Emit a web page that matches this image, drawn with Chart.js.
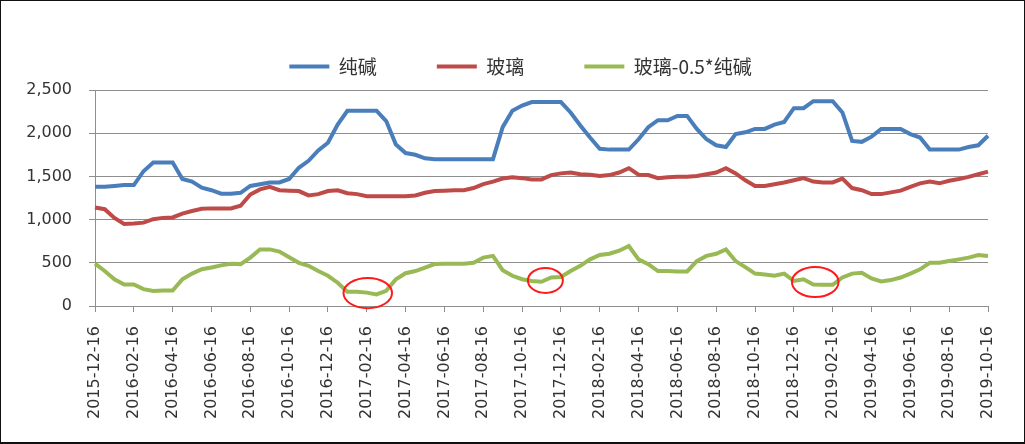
<!DOCTYPE html>
<html>
<head>
<meta charset="utf-8">
<script src="https://cdn.jsdelivr.net/npm/chart.js@4/dist/chart.umd.min.js"></script>
<style>
  body { margin: 0; background: #fff; }
  #wrap { width: 1025px; height: 444px; box-sizing: border-box; border: 1px solid #111; border-bottom-width: 2px; }
  canvas { display: block; }
</style>
</head>
<body>
<div id="wrap"><canvas id="spread" width="1023" height="441"></canvas></div>
<script>
// half-month sampling, 2015-12-16 .. 2019-10-16
const categories = [
  '2015-12-16',
  '2016-01-01','2016-01-16','2016-02-01','2016-02-16','2016-03-01','2016-03-16','2016-04-01','2016-04-16',
  '2016-05-01','2016-05-16','2016-06-01','2016-06-16','2016-07-01','2016-07-16','2016-08-01','2016-08-16',
  '2016-09-01','2016-09-16','2016-10-01','2016-10-16','2016-11-01','2016-11-16','2016-12-01','2016-12-16',
  '2017-01-01','2017-01-16','2017-02-01','2017-02-16','2017-03-01','2017-03-16','2017-04-01','2017-04-16',
  '2017-05-01','2017-05-16','2017-06-01','2017-06-16','2017-07-01','2017-07-16','2017-08-01','2017-08-16',
  '2017-09-01','2017-09-16','2017-10-01','2017-10-16','2017-11-01','2017-11-16','2017-12-01','2017-12-16',
  '2018-01-01','2018-01-16','2018-02-01','2018-02-16','2018-03-01','2018-03-16','2018-04-01','2018-04-16',
  '2018-05-01','2018-05-16','2018-06-01','2018-06-16','2018-07-01','2018-07-16','2018-08-01','2018-08-16',
  '2018-09-01','2018-09-16','2018-10-01','2018-10-16','2018-11-01','2018-11-16','2018-12-01','2018-12-16',
  '2019-01-01','2019-01-16','2019-02-01','2019-02-16','2019-03-01','2019-03-16','2019-04-01','2019-04-16',
  '2019-05-01','2019-05-16','2019-06-01','2019-06-16','2019-07-01','2019-07-16','2019-08-01','2019-08-16',
  '2019-09-01','2019-09-16','2019-10-01','2019-10-16'
]

const tickLabels = [
  '2015-12-16','2016-02-16','2016-04-16','2016-06-16','2016-08-16','2016-10-16','2016-12-16',
  '2017-02-16','2017-04-16','2017-06-16','2017-08-16','2017-10-16','2017-12-16',
  '2018-02-16','2018-04-16','2018-06-16','2018-08-16','2018-10-16','2018-12-16',
  '2019-02-16','2019-04-16','2019-06-16','2019-08-16','2019-10-16'
]

const sodaAsh = [
  1380, 1380, 1390, 1400, 1400, 1560, 1660, 1660, 1660, 1470, 1440, 1370, 1340, 1300, 1300, 1310,
  1390, 1410, 1430, 1430, 1470, 1600, 1680, 1800, 1890, 2100, 2260, 2260, 2260, 2260, 2140, 1870,
  1770, 1750, 1710, 1700, 1700, 1700, 1700, 1700, 1700, 1700, 2070, 2260, 2320, 2360, 2360, 2360,
  2360, 2240, 2090, 1950, 1820, 1810, 1810, 1810, 1930, 2070, 2150, 2150, 2200, 2200, 2050, 1930,
  1860, 1840, 1990, 2010, 2050, 2050, 2100, 2130, 2290, 2290, 2370, 2370, 2370, 2240, 1910, 1900,
  1960, 2050, 2050, 2050, 1990, 1950, 1810, 1810, 1810, 1810, 1840, 1860, 1970
]

const glass = [
  1140, 1120, 1020, 950, 955, 965, 1005, 1020, 1025, 1070, 1100, 1125, 1130, 1130, 1130, 1160,
  1290, 1350, 1380, 1340, 1335, 1330, 1280, 1295, 1330, 1340, 1305, 1295, 1270, 1270, 1270, 1270,
  1270, 1280, 1310, 1330, 1335, 1340, 1340, 1365, 1410, 1440, 1475, 1490, 1480, 1465, 1465, 1515,
  1535, 1545, 1525, 1520, 1505, 1515, 1545, 1595, 1520, 1515, 1480, 1490, 1495, 1495, 1505, 1525,
  1545, 1595, 1535, 1455, 1390, 1390, 1410, 1430, 1455, 1480, 1440, 1430, 1430, 1475, 1365, 1340,
  1295, 1295, 1315, 1335, 1380, 1420, 1440, 1420, 1450, 1470, 1495, 1525, 1555
]

const spread = [
  490, 405, 310, 250, 250, 195, 175, 180, 180, 310, 375, 425, 445, 470, 490, 485,
  560, 655, 655, 630, 565, 500, 465, 405, 350, 270, 165, 165, 155, 135, 175, 310,
  380, 405, 445, 485, 490, 490, 490, 500, 560, 580, 415, 350, 310, 290, 280, 330,
  335, 405, 465, 540, 590, 605, 640, 695, 540, 485, 405, 405, 400, 400, 520, 580,
  605, 655, 520, 450, 375, 365, 350, 375, 290, 310, 250, 245, 245, 330, 375, 385,
  320, 285, 300, 330, 375, 425, 500, 500, 520, 540, 560, 590, 580
]

// red rings drawn on the chart: centre (category index, value) and half sizes in the same units
const rings = [
  { index: 28.1, value: 150, halfIndex: 2.5, halfValue: 175 },
  { index: 46.4, value: 296, halfIndex: 1.8, halfValue: 145 },
  { index: 74.2, value: 278, halfIndex: 2.4, halfValue: 174 },
]

const gridColor = '#8e8e8e'
const textColor = '#333333'

const ringPlugin = {
  id: 'rings',
  afterDatasetsDraw(chart) {
    const { ctx, scales: { x, y } } = chart
    ctx.save()
    ctx.strokeStyle = '#ff1a1a'
    ctx.lineWidth = 2
    rings.forEach(r => {
      const cx = x.getPixelForValue(r.index)
      const cy = y.getPixelForValue(r.value)
      const rx = Math.abs(x.getPixelForValue(r.index + r.halfIndex) - cx)
      const ry = Math.abs(y.getPixelForValue(r.value + r.halfValue) - cy)
      ctx.beginPath()
      ctx.ellipse(cx, cy, rx, ry, 0, 0, Math.PI * 2)
      ctx.stroke()
    })
    ctx.restore()
  }
}

// nudge the legend row to where the original sits
const legendNudge = {
  id: 'legendNudge',
  afterLayout(chart) {
    const lg = chart.legend
    lg.left += 26; lg.right += 26
    lg.top -= 4; lg.bottom -= 4
  }
}

const line = (label, data, color) => ({
  label, data,
  borderColor: color,
  backgroundColor: color,
  borderWidth: 4,
  pointRadius: 0,
  tension: 0,
  fill: false,
})

new Chart(document.getElementById('spread'), {
  type: 'line',
  data: {
    labels: categories,
    datasets: [
      line('纯碱', sodaAsh, '#4a7ebb'),
      line('玻璃', glass, '#be4b48'),
      line('玻璃-0.5*纯碱', spread, '#98b954'),
    ],
  },
  options: {
    responsive: false,
    animation: false,
    events: [],
    layout: { padding: { top: 0, right: 36, bottom: 9, left: 0 } },
    plugins: {
      tooltip: { enabled: false },
      legend: {
        position: 'top',
        labels: {
          usePointStyle: true,
          pointStyle: 'line',
          pointStyleWidth: 40,
          padding: 60,
          color: textColor,
          font: { family: '"Noto Sans CJK SC", sans-serif', size: 19 },
        },
      },
    },
    scales: {
      x: {
        type: 'category',
        offset: false,
        afterBuildTicks(axis) {
          axis.ticks = axis.ticks.filter(t => tickLabels.includes(categories[t.value]))
        },
        grid: { drawOnChartArea: false, drawTicks: true, tickLength: 6, color: gridColor },
        border: { color: gridColor },
        ticks: {
          autoSkip: false,
          minRotation: 90,
          maxRotation: 90,
          padding: 14,
          color: textColor,
          font: { family: '"DejaVu Sans", sans-serif', size: 16 },
        },
      },
      y: {
        min: 0,
        max: 2500,
        afterFit(axis) { axis.width = 94 },
        grid: { color: gridColor, tickLength: 6 },
        border: { color: gridColor },
        ticks: {
          stepSize: 500,
          padding: 17,
          color: textColor,
          font: { family: '"DejaVu Sans", sans-serif', size: 16 },
          callback: v => v.toLocaleString('en-US'),
        },
      },
    },
  },
  plugins: [ringPlugin, legendNudge],
})
</script>
</body>
</html>
